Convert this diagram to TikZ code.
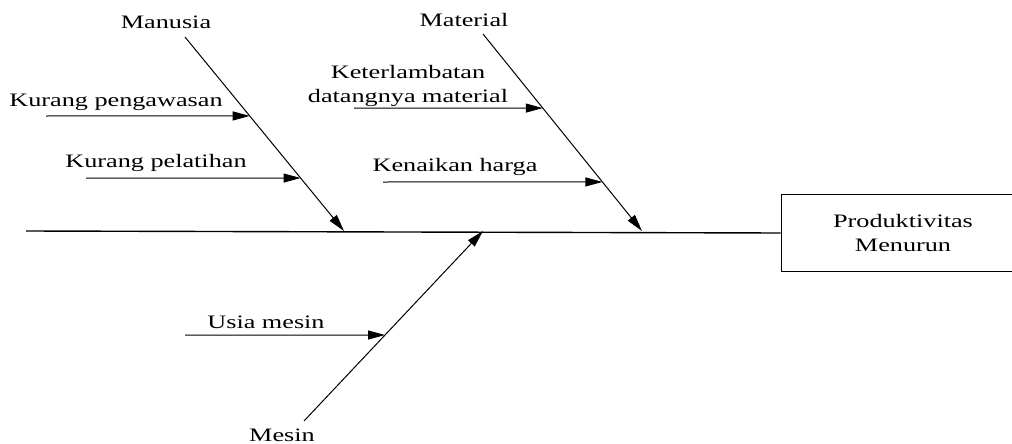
\documentclass[tikz,border=0pt]{standalone}
\usepackage{fontspec}
\setmainfont{Liberation Serif}[FakeStretch=1.38]
\usetikzlibrary{arrows.meta,calc}
\begin{document}
\begin{tikzpicture}[x=1pt,y=-1pt,
  lbl/.style={inner sep=0pt,font=\fontsize{19}{24}\selectfont,align=center},
  bone/.style={line width=1pt,-{Triangle[length=17pt,width=9pt]}},
  sub/.style={line width=1pt,-{Triangle[length=17pt,width=9pt]}},
  spine/.style={line width=1.4pt},
  effect/.style={draw,line width=1pt,minimum width=244pt,minimum height=77pt,inner sep=0pt,font=\fontsize{19}{24}\selectfont,align=center}]
\clip (0,0) rectangle (1012,444);
\fill[white] (0,0) rectangle (1012,444);
% spine and effect box
\coordinate (tail) at (26,231);
\node[effect] (eff) at (903,233) {Produktivitas\\Menurun};
\draw[spine] (tail) -- (eff.west);
% bone end points
\coordinate (mTop) at (185,37);
\coordinate (mEnd) at (344,231);
\coordinate (tTop) at (483,34);
\coordinate (tEnd) at (642,231);
\coordinate (sBot) at (304,421);
\coordinate (sEnd) at (483,231);
% labels of bones
\node[lbl] (manusia) at (166,22) {Manusia};
\node[lbl] (material) at (464,20) {Material};
\node[lbl] (mesin) at (282,435) {Mesin};
% bones
\draw[bone] (mTop) -- (mEnd);
\draw[bone] (tTop) -- (tEnd);
\draw[bone] (sBot) -- (sEnd);
% points on bones
\coordinate (m1) at ($(mTop)!0.407!(mEnd)$);
\coordinate (m2) at ($(mTop)!0.727!(mEnd)$);
\coordinate (t1) at ($(tTop)!0.376!(tEnd)$);
\coordinate (t2) at ($(tTop)!0.751!(tEnd)$);
\coordinate (s1) at ($(sBot)!0.4526!(sEnd)$);
% sub-cause starts
\coordinate (m1s) at (46,116);
\coordinate (m2s) at (86,178);
\coordinate (t1s) at (354,108);
\coordinate (t2s) at (383,182);
\coordinate (s1s) at (185,335);
% sub-cause labels
\node[lbl] (kp) at (116,102) {Kurang pengawasan};
\node[lbl] (kpl) at (156,163) {Kurang pelatihan};
\node[lbl] (ket) at (408,86) {Keterlambatan\\datangnya material};
\node[lbl] (ken) at (455,167) {Kenaikan harga};
\node[lbl] (usia) at (266,322) {Usia mesin};
% sub-cause arrows
\draw[sub] (m1s) -- (m1);
\draw[sub] (m2s) -- (m2);
\draw[sub] (t1s) -- (t1);
\draw[sub] (t2s) -- (t2);
\draw[sub] (s1s) -- (s1);
\end{tikzpicture}
\end{document}
